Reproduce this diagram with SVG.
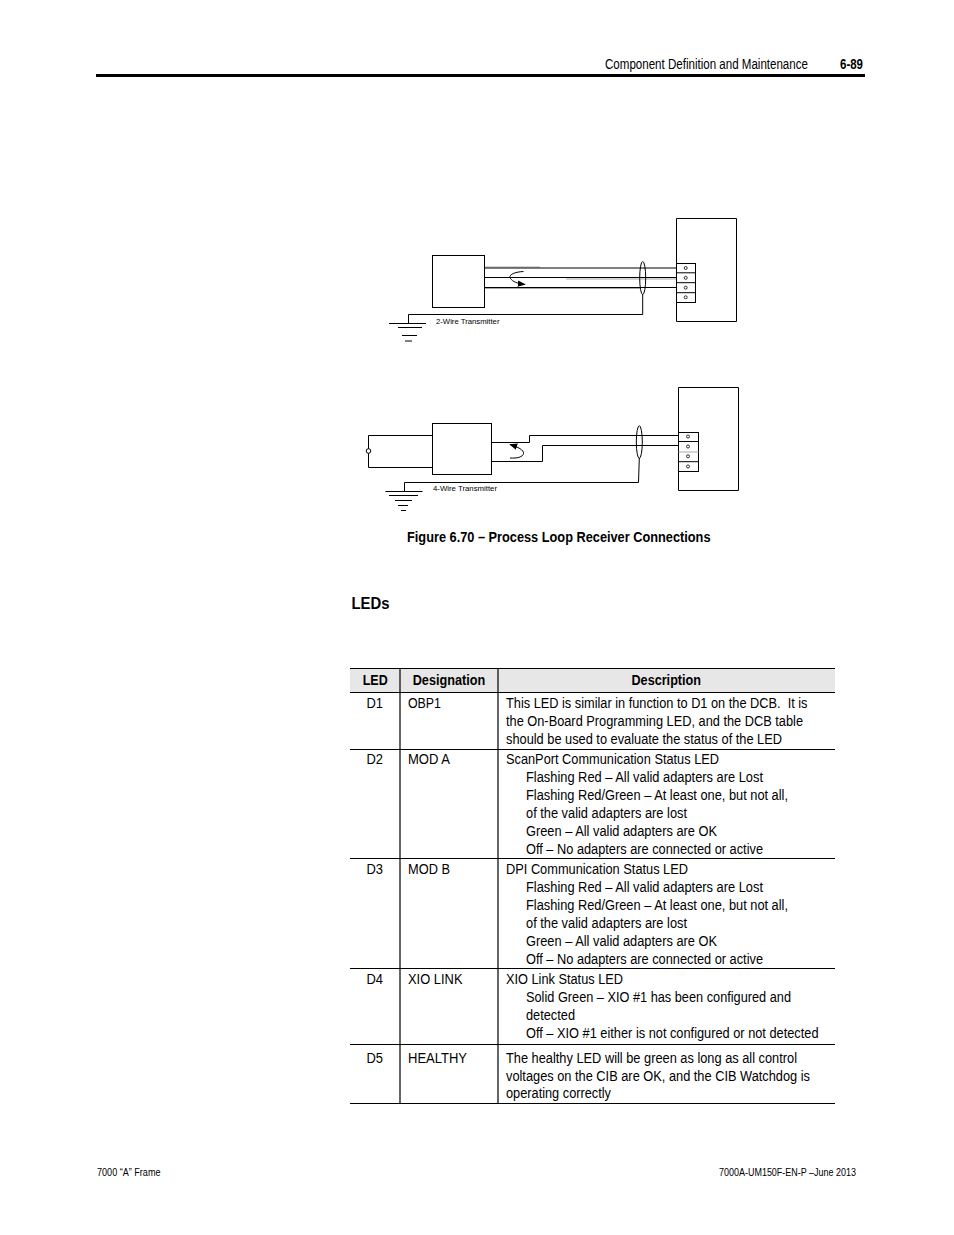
<svg xmlns="http://www.w3.org/2000/svg" width="954" height="1235" viewBox="0 0 954 1235">
<style>
text{font-family:"Liberation Sans",Arial,sans-serif;fill:#000;font-size:14px}
.h{font-weight:bold}
.l{font-size:16px;font-weight:bold}
.s{font-size:8px}
.f{font-size:10px}
.w{fill:none;stroke:#000;stroke-width:1}
.g{fill:none;stroke:#aaa;stroke-width:1}
.n{fill:#fff;stroke:#000;stroke-width:1}
.d{fill:#fff;stroke:#000;stroke-width:.8}
.r{stroke:#000;stroke-width:1.2;fill:none}
</style>
<defs>
<marker id="ah" viewBox="0 0 10 8" refX="9" refY="4" markerWidth="8" markerHeight="7" markerUnits="userSpaceOnUse" orient="auto"><path d="M0 0L10 4L0 8Z" fill="#000"/></marker>
</defs>
<rect width="954" height="1235" fill="#fff"/>

<g id="page-header">
<text transform="translate(605 69) scale(.89 1)" textLength="228" lengthAdjust="spacingAndGlyphs">Component Definition and Maintenance</text>
<text x="840" y="69" class="h" textLength="23" lengthAdjust="spacingAndGlyphs">6-89</text>
<rect x="96" y="74" width="769" height="3" fill="#000"/>
</g>

<g id="connectors-2wire">
<path class="g" d="M485 267H540M566 279H690M485 288.5H640"/>
<path class="w" d="M484.5 268H685.5M484.5 277.5H685.5M484.5 287.5H685.5"/>
<path class="w" d="M642.7 294L642.7 314.5H408.5V323.5"/>
<path class="w" d="M523.5 271.5C514 272 508 275 510.5 278.5C512.5 281.5 517 283.5 525 284.5" marker-end="url(#ah)"/>
</g>
<g id="node-2wire-transmitter"><rect class="n" x="432.5" y="255.5" width="52" height="52"/></g>
<g id="node-2wire-shield"><ellipse class="w" cx="642.7" cy="278" rx="3" ry="16.5"/></g>
<g id="node-2wire-ground"><path class="w" d="M389 323.5H426M398 327.5H422M402 335.5H417M405 341H412"/></g>
<g id="node-2wire-receiver">
<path class="w" d="M676.5 218.5H736.5V321.5H676.5Z"/>
<rect class="n" x="676.5" y="263.5" width="19" height="39"/>
<path class="w" d="M676.5 272.8H695.5M676.5 282.7H695.5M676.5 292.7H695.5"/>
<circle class="d" cx="685.7" cy="268" r="1.5"/><circle class="d" cx="685.7" cy="277.8" r="1.5"/><circle class="d" cx="685.7" cy="287.7" r="1.5"/><circle class="d" cx="685.7" cy="297.3" r="1.5"/>
</g>
<text x="436" y="324" class="s" textLength="63.5" lengthAdjust="spacingAndGlyphs">2-Wire Transmitter</text>

<g id="connectors-4wire">
<path class="w" d="M491.5 442.5H529.5V435.5H688M491.5 461.5H542.5V445.5H688"/>
<path class="w" d="M432.5 435.5H368.5V467.5H432.5"/>
<path class="w" d="M639.3 458L638.5 482.5H404.5V491.5"/>
<path class="w" d="M510 458C517 458.5 523 457 523.5 453.5C524 450 518 447 510 444.5" marker-end="url(#ah)"/>
</g>
<g id="node-4wire-transmitter"><rect class="n" x="432.5" y="423.5" width="59" height="51"/></g>
<g id="node-4wire-input"><circle class="n" cx="368.5" cy="451" r="2.3"/></g>
<g id="node-4wire-shield"><ellipse class="w" cx="639.3" cy="442" rx="3" ry="16.3"/></g>
<g id="node-4wire-ground"><path class="w" d="M385.5 491.5H422.5M389 495.5H418M395 500.5H412M398 505.5H408M401 510.5H406"/></g>
<g id="node-4wire-receiver">
<path class="w" d="M678.5 387.5H738.5V490.5H678.5Z"/>
<rect class="n" x="678.5" y="432.5" width="20" height="39"/>
<path class="w" d="M678.5 441.5H698.5M678.5 461.7H698.5"/>
<path class="g" d="M678.5 452H698.5" stroke-width="1.5"/>
<circle class="d" cx="688" cy="436.5" r="1.5"/><circle class="d" cx="688" cy="446.5" r="1.5"/><circle class="d" cx="688" cy="456.3" r="1.5"/><circle class="d" cx="688" cy="466.5" r="1.5"/>
</g>
<text x="433" y="491" class="s" textLength="64" lengthAdjust="spacingAndGlyphs">4-Wire Transmitter</text>

<text x="407" y="541.5" class="h" textLength="303.5" lengthAdjust="spacingAndGlyphs">Figure 6.70 – Process Loop Receiver Connections</text>
<text x="351.5" y="608.5" class="l" textLength="38" lengthAdjust="spacingAndGlyphs">LEDs</text>

<g id="led-table">
<rect x="350" y="668.5" width="485" height="24" fill="#e7e7e7"/>
<path class="r" d="M350 668.5H835M350 692.5H835M350 749.5H835M350 858.5H835M350 968.5H835M350 1044.5H835M350 1103.5H835"/>
<path class="r" d="M400 668V1104M498 668V1104"/>
<text x="362.7" y="684.5" class="h" textLength="25" lengthAdjust="spacingAndGlyphs">LED</text>
<text x="412.7" y="684.5" class="h" textLength="72.5" lengthAdjust="spacingAndGlyphs">Designation</text>
<text x="631.5" y="684.5" class="h" textLength="69.5" lengthAdjust="spacingAndGlyphs">Description</text>

<text x="366.5" y="708" textLength="16.5" lengthAdjust="spacingAndGlyphs">D1</text>
<text x="408" y="708" textLength="33" lengthAdjust="spacingAndGlyphs">OBP1</text>
<text x="506" y="708" textLength="301.5" lengthAdjust="spacingAndGlyphs" xml:space="preserve">This LED is similar in function to D1 on the DCB.  It is</text>
<text x="506" y="726" textLength="297" lengthAdjust="spacingAndGlyphs">the On-Board Programming LED, and the DCB table</text>
<text x="506" y="744" textLength="276" lengthAdjust="spacingAndGlyphs">should be used to evaluate the status of the LED</text>

<text x="366.5" y="764" textLength="16.5" lengthAdjust="spacingAndGlyphs">D2</text>
<text x="408" y="764" textLength="42" lengthAdjust="spacingAndGlyphs">MOD A</text>
<text x="506" y="764" textLength="213" lengthAdjust="spacingAndGlyphs">ScanPort Communication Status LED</text>
<text x="526" y="782" textLength="237" lengthAdjust="spacingAndGlyphs">Flashing Red – All valid adapters are Lost</text>
<text x="526" y="800" textLength="262" lengthAdjust="spacingAndGlyphs">Flashing Red/Green – At least one, but not all,</text>
<text x="526" y="818" textLength="161" lengthAdjust="spacingAndGlyphs">of the valid adapters are lost</text>
<text x="526" y="836" textLength="191" lengthAdjust="spacingAndGlyphs">Green – All valid adapters are OK</text>
<text x="526" y="854" textLength="237" lengthAdjust="spacingAndGlyphs">Off – No adapters are connected or active</text>

<text x="366.5" y="874" textLength="16.5" lengthAdjust="spacingAndGlyphs">D3</text>
<text x="408" y="874" textLength="42" lengthAdjust="spacingAndGlyphs">MOD B</text>
<text x="506" y="874" textLength="182" lengthAdjust="spacingAndGlyphs">DPI Communication Status LED</text>
<text x="526" y="892" textLength="237" lengthAdjust="spacingAndGlyphs">Flashing Red – All valid adapters are Lost</text>
<text x="526" y="910" textLength="262" lengthAdjust="spacingAndGlyphs">Flashing Red/Green – At least one, but not all,</text>
<text x="526" y="928" textLength="161" lengthAdjust="spacingAndGlyphs">of the valid adapters are lost</text>
<text x="526" y="946" textLength="191" lengthAdjust="spacingAndGlyphs">Green – All valid adapters are OK</text>
<text x="526" y="964" textLength="237" lengthAdjust="spacingAndGlyphs">Off – No adapters are connected or active</text>

<text x="366.5" y="984" textLength="16.5" lengthAdjust="spacingAndGlyphs">D4</text>
<text x="408" y="984" textLength="54.5" lengthAdjust="spacingAndGlyphs">XIO LINK</text>
<text x="506" y="984" textLength="117" lengthAdjust="spacingAndGlyphs">XIO Link Status LED</text>
<text x="526" y="1002" textLength="265" lengthAdjust="spacingAndGlyphs">Solid Green – XIO #1 has been configured and</text>
<text x="526" y="1020" textLength="49" lengthAdjust="spacingAndGlyphs">detected</text>
<text x="526" y="1038" textLength="292.5" lengthAdjust="spacingAndGlyphs">Off – XIO #1 either is not configured or not detected</text>

<text x="366.5" y="1063" textLength="16.5" lengthAdjust="spacingAndGlyphs">D5</text>
<text x="408" y="1063" textLength="59" lengthAdjust="spacingAndGlyphs">HEALTHY</text>
<text x="506" y="1063" textLength="291" lengthAdjust="spacingAndGlyphs">The healthy LED will be green as long as all control</text>
<text x="506" y="1081" textLength="304" lengthAdjust="spacingAndGlyphs">voltages on the CIB are OK, and the CIB Watchdog is</text>
<text x="506" y="1098" textLength="105" lengthAdjust="spacingAndGlyphs">operating correctly</text>
</g>

<g id="page-footer">
<text x="97" y="1176" class="f" textLength="63.5" lengthAdjust="spacingAndGlyphs">7000 “A” Frame</text>
<text x="719" y="1175.5" class="f" textLength="137" lengthAdjust="spacingAndGlyphs">7000A-UM150F-EN-P –June 2013</text>
</g>
</svg>
